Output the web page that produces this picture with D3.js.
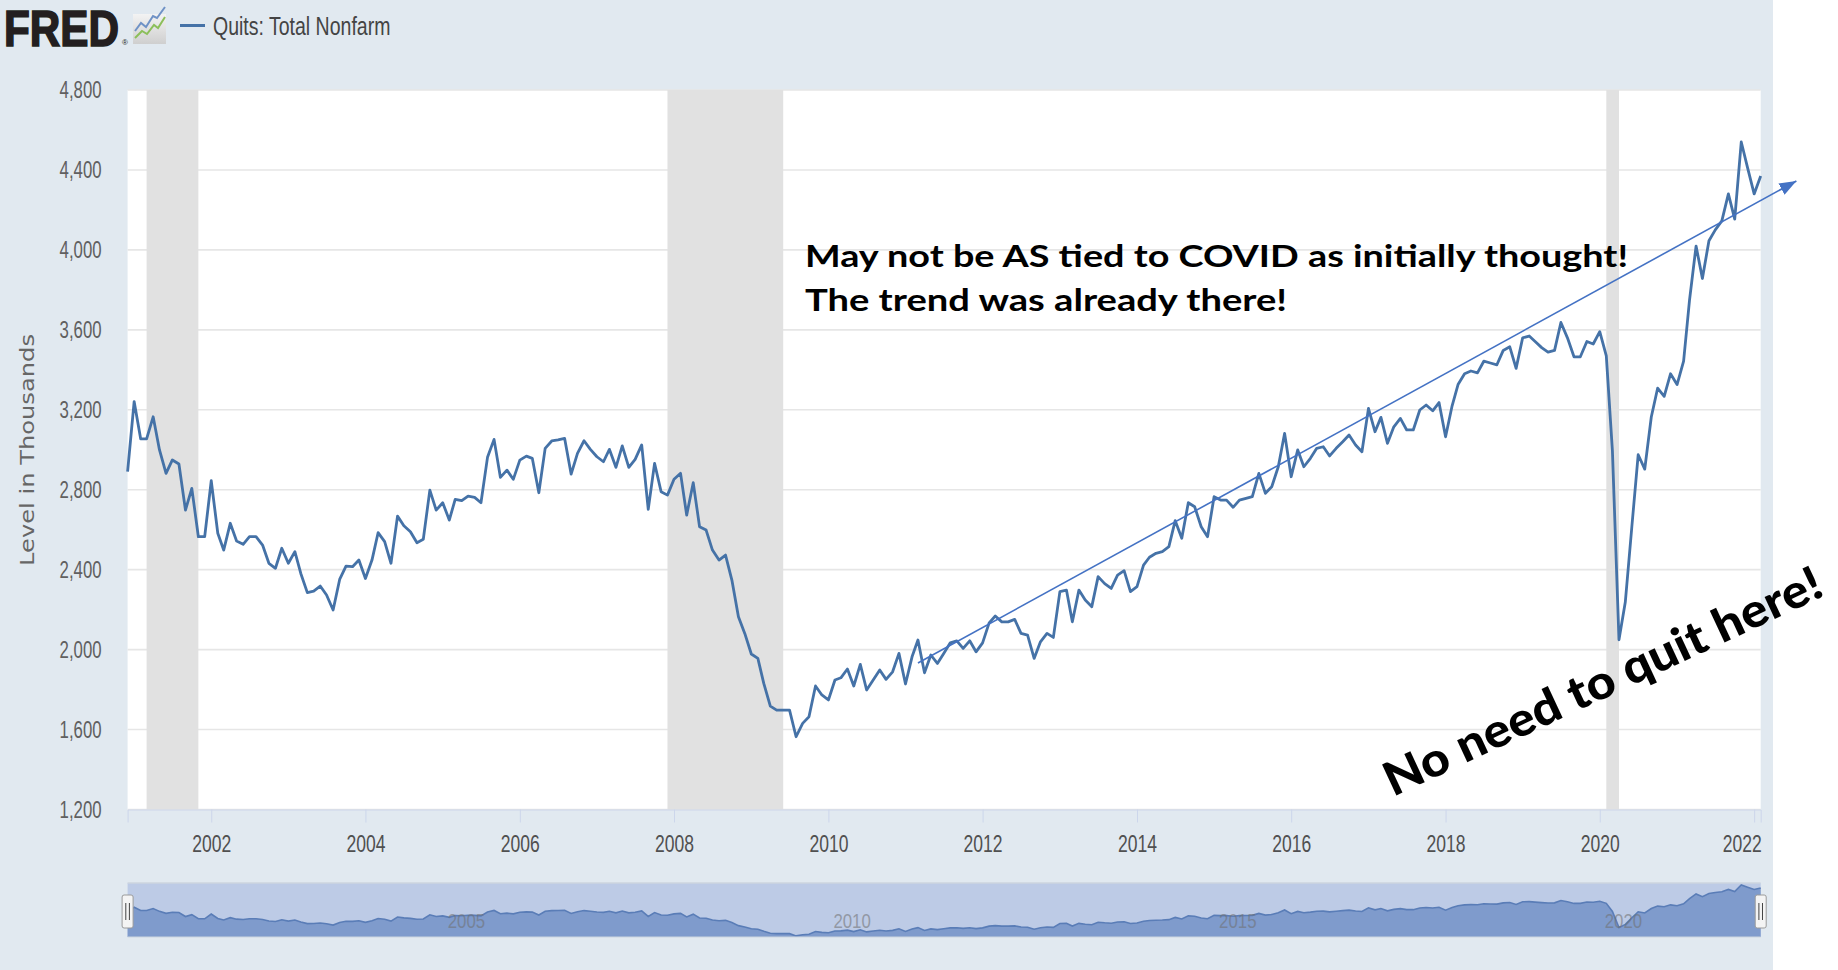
<!DOCTYPE html>
<html>
<head>
<meta charset="utf-8">
<script src="https://cdn.jsdelivr.net/npm/d3@7"></script>
<style>
  html, body { margin: 0; padding: 0; background: #ffffff; }
  svg { display: block; }
</style>
</head>
<body>
<svg id="chart" width="1838" height="970"></svg>
<script>
// ---- Data: JOLTS quits, total nonfarm, monthly, thousands ----
const firstMonth = "2000-12";
const quitsLevels = [
  2890,                                                             // 2000 Dec
  3241,3054,3054,3165,2999,2882,2949,2929,2698,2807,2565,2565,      // 2001
  2845,2582,2498,2632,2543,2527,2565,2565,2523,2432,2407,2507,      // 2002
  2432,2490,2381,2285,2293,2318,2273,2198,2351,2418,2415,2448,      // 2003
  2356,2448,2585,2540,2432,2668,2620,2590,2535,2552,2798,2698,      // 2004
  2735,2648,2752,2745,2768,2762,2735,2962,3052,2862,2898,2852,      // 2005
  2948,2968,2957,2785,3007,3044,3049,3057,2878,2982,3045,3002,      // 2006
  2965,2940,3002,2912,3019,2912,2952,3024,2702,2932,2790,2773,      // 2007
  2852,2882,2673,2835,2615,2598,2498,2448,2473,2348,2165,2081,      // 2008
  1978,1956,1831,1717,1697,1697,1697,1564,1631,1664,1818,1773,      // 2009
  1748,1848,1859,1903,1818,1926,1798,1848,1898,1851,1889,1981,      // 2010
  1828,1964,2048,1884,1973,1931,1981,2034,2044,2006,2044,1989,      // 2011
  2034,2134,2168,2139,2139,2151,2081,2073,1956,2039,2081,2061,      // 2012
  2290,2298,2139,2298,2248,2215,2365,2330,2306,2373,2395,2290,      // 2013
  2315,2423,2462,2482,2490,2515,2645,2557,2735,2715,2615,2565,      // 2014
  2765,2748,2748,2712,2748,2757,2765,2882,2782,2815,2915,3082,      // 2015
  2865,2999,2915,2957,3007,3015,2969,3007,3040,3074,3024,2990,      // 2016
  3207,3090,3162,3032,3115,3157,3099,3099,3199,3224,3195,3236,      // 2017
  3065,3220,3326,3380,3394,3385,3443,3434,3425,3497,3515,3407,      // 2018
  3560,3569,3542,3511,3488,3497,3637,3560,3465,3465,3542,3529,      // 2019
  3591,3470,2993,2049,2238,2616,2975,2903,3164,3308,3267,3380,      // 2020
  3326,3443,3749,4019,3857,4046,4100,4145,4280,4154,4540,4410,      // 2021
  4280,4370                                                         // 2022
];

// Recessions (start month, end month)
const recessionStarts = ["2001-03", "2007-12", "2020-02"];
const recessionEnds   = ["2001-11", "2009-06", "2020-04"];

// Axis ticks
const yTickValues = [1200, 1600, 2000, 2400, 2800, 3200, 3600, 4000, 4400, 4800];
const xTickYears = [2002, 2004, 2006, 2008, 2010, 2012, 2014, 2016, 2018, 2020, 2022];
const navigatorYears = [2005, 2010, 2015, 2020];

// Text
const seriesName = "Quits: Total Nonfarm";
const yAxisTitle = "Level in Thousands";
const noteLines = ["May not be AS tied to COVID as initially thought!", "The trend was already there!"];
const stampText = "No need to quit here!";

// Hand-drawn trend arrow (month, level) at its two ends
const trendStart = ["2011-03", 1933];
const trendEnd   = ["2022-07", 4345];

// ---- Layout ----
const W = 1838, H = 970;
const pageRight = 1773;
const plot = { left: 127.6, right: 1760.7, top: 90, bottom: 809.5 };
const nav = { top: 883, bottom: 937 };

const svg = d3.select("#chart");
const defs = svg.append("defs");
const parseMonth = d3.timeParse("%Y-%m");
const start = parseMonth(firstMonth);
const series = quitsLevels.map((v, i) => ({ date: d3.timeMonth.offset(start, i), value: v }));

const x = d3.scaleTime()
  .domain([series[0].date, series[series.length - 1].date])
  .range([plot.left, plot.right]);
const y = d3.scaleLinear().domain([1200, 4800]).range([plot.bottom, plot.top]);

// condensed label look
function condense(sel, f) {
  sel.each(function () {
    const w = this.getComputedTextLength();
    this.setAttribute("textLength", (w * f).toFixed(1));
    this.setAttribute("lengthAdjust", "spacingAndGlyphs");
  });
}

// ---- Backgrounds ----
svg.append("rect").attr("x", 0).attr("y", 0).attr("width", pageRight).attr("height", H).attr("fill", "#e1e9f0");
svg.append("rect")
  .attr("x", plot.left).attr("y", plot.top)
  .attr("width", plot.right - plot.left).attr("height", plot.bottom - plot.top)
  .attr("fill", "#ffffff");

// ---- Grid ----
svg.append("g").selectAll("line").data(yTickValues).join("line")
  .attr("x1", plot.left).attr("x2", plot.right)
  .attr("y1", d => y(d)).attr("y2", d => y(d))
  .attr("stroke", "#e6e6e6").attr("stroke-width", 1.6);

// ---- Recession bands ----
svg.append("g").selectAll("rect").data(recessionStarts.map((s, i) => [parseMonth(s), parseMonth(recessionEnds[i])]))
  .join("rect")
  .attr("x", d => x(d[0])).attr("width", d => x(d[1]) - x(d[0]))
  .attr("y", plot.top).attr("height", plot.bottom - plot.top)
  .attr("fill", "#e1e1e1");

// ---- X axis ----
const xAxis = d3.axisBottom(x)
  .tickValues(xTickYears.map(yr => new Date(yr, 0, 1)))
  .tickFormat(d3.timeFormat("%Y"))
  .tickSize(13).tickPadding(12);
const gx = svg.append("g").attr("transform", `translate(0,${plot.bottom})`).call(xAxis);
gx.select(".domain").attr("stroke", "#ccd6eb").attr("stroke-width", 1);
gx.selectAll(".tick line").attr("stroke", "#ccd6eb").attr("stroke-width", 1);
gx.selectAll(".tick text")
  .attr("font-family", "'Liberation Sans', Arial, sans-serif")
  .attr("font-size", 24).attr("fill", "#505050");
condense(gx.selectAll(".tick text"), 0.73);
// keep the last label inside the plot
gx.selectAll(".tick text").each(function () {
  const b = this.getBBox();
  const tx = +this.parentNode.getAttribute("transform").match(/translate\(([-\d.]+)/)[1];
  const over = tx + b.x + b.width - (plot.right + 1);
  if (over > 0) this.setAttribute("x", -over);
});

// ---- Y axis ----
const yAxis = d3.axisLeft(y).tickValues(yTickValues).tickFormat(d3.format(",")).tickSize(0).tickPadding(26);
const gy = svg.append("g").attr("transform", `translate(${plot.left},0)`).call(yAxis);
gy.select(".domain").remove();
gy.selectAll(".tick text")
  .attr("font-family", "'Liberation Sans', Arial, sans-serif")
  .attr("font-size", 24).attr("fill", "#606060");
condense(gy.selectAll(".tick text"), 0.7);

svg.append("text")
  .attr("transform", `translate(27,450) rotate(-90)`)
  .attr("text-anchor", "middle").attr("dominant-baseline", "central")
  .attr("font-family", "'DejaVu Sans', sans-serif").attr("font-size", 20)
  .attr("fill", "#666666")
  .attr("textLength", 232).attr("lengthAdjust", "spacingAndGlyphs")
  .text(yAxisTitle);

// ---- Series line ----
const line = d3.line().x(d => x(d.date)).y(d => y(d.value));
svg.append("path").datum(series)
  .attr("d", line)
  .attr("fill", "none").attr("stroke", "#4572a7")
  .attr("stroke-width", 2.8).attr("stroke-linejoin", "round");

// ---- Navigator ----
const yNav = d3.scaleLinear().domain([1500, 4600]).range([nav.bottom, nav.top + 1]);
svg.append("rect")
  .attr("x", plot.left).attr("y", nav.top)
  .attr("width", plot.right - plot.left).attr("height", nav.bottom - nav.top)
  .attr("fill", "#bdcbe6");
svg.append("path").datum(series)
  .attr("d", d3.area().x(d => x(d.date)).y0(nav.bottom).y1(d => yNav(d.value)))
  .attr("fill", "#7f9bcc");
svg.append("path").datum(series)
  .attr("d", d3.line().x(d => x(d.date)).y(d => yNav(d.value)))
  .attr("fill", "none").attr("stroke", "#5a7db7").attr("stroke-width", 1.6);
svg.append("line")
  .attr("x1", plot.left).attr("x2", plot.right).attr("y1", nav.top).attr("y2", nav.top)
  .attr("stroke", "#cdd5df").attr("stroke-width", 1.5);
svg.append("line")
  .attr("x1", plot.left).attr("x2", plot.right).attr("y1", nav.bottom).attr("y2", nav.bottom)
  .attr("stroke", "#cdd5df").attr("stroke-width", 1);

const navText = svg.append("g").selectAll("text").data(navigatorYears).join("text")
  .attr("x", d => x(new Date(d, 0, 1)) + 5)
  .attr("y", 928)
  .attr("font-family", "'Liberation Sans', Arial, sans-serif")
  .attr("font-size", 21).attr("fill", "#6f6f6f").attr("opacity", 0.55)
  .text(d => d);
condense(navText, 0.8);

// navigator handles
const handles = svg.append("g").selectAll("g").data([plot.left, plot.right]).join("g")
  .attr("transform", d => `translate(${d},0)`);
handles.append("rect")
  .attr("x", -5.5).attr("y", 895).attr("width", 11).attr("height", 33).attr("rx", 2)
  .attr("fill", "#f4f4f4").attr("stroke", "#9a9a9a").attr("stroke-width", 1);
handles.selectAll("line").data([-1.8, 1.8]).join("line")
  .attr("x1", d => d).attr("x2", d => d).attr("y1", 903).attr("y2", 920)
  .attr("stroke", "#444").attr("stroke-width", 1);

// ---- Header: logo and legend ----
const head = svg.append("g");
// tall, tightly set wordmark
head.append("text")
  .attr("transform", "translate(4,45.5) scale(1,1.25)")
  .attr("font-family", "'Liberation Sans', Arial, sans-serif").attr("font-weight", 700)
  .attr("font-size", 40).attr("fill", "#231f20")
  .attr("stroke", "#231f20").attr("stroke-width", 1.3)
  .attr("textLength", 115).attr("lengthAdjust", "spacingAndGlyphs")
  .text("FRED");
head.append("text")
  .attr("x", 122).attr("y", 45)
  .attr("font-family", "'Liberation Sans', Arial, sans-serif")
  .attr("font-size", 8).attr("fill", "#231f20")
  .text("\u00AE");

// small chart icon
const icon = head.append("g").attr("transform", "translate(133,6)");
const iconGrad = defs.append("linearGradient").attr("id", "iconGrad")
  .attr("x1", 0).attr("y1", 0).attr("x2", 0).attr("y2", 1);
iconGrad.append("stop").attr("offset", "0%").attr("stop-color", "#f3f3f3");
iconGrad.append("stop").attr("offset", "100%").attr("stop-color", "#cfcfcf");
icon.append("rect").attr("x", 0).attr("y", 8).attr("width", 33).attr("height", 30).attr("fill", "url(#iconGrad)");
icon.append("polyline")
  .attr("points", "2,25 8,17 13,21 20,10 24,12 32,1")
  .attr("fill", "none").attr("stroke", "#6f92c6").attr("stroke-width", 2);
icon.append("polyline")
  .attr("points", "2,32 9,25 14,28 21,19 25,22 32,11")
  .attr("fill", "none").attr("stroke", "#8cbf5a").attr("stroke-width", 2);

head.append("line")
  .attr("x1", 180).attr("x2", 205).attr("y1", 25.5).attr("y2", 25.5)
  .attr("stroke", "#4572a7").attr("stroke-width", 3);
const legendText = head.append("text")
  .attr("x", 213).attr("y", 34.5)
  .attr("font-family", "'Liberation Sans', Arial, sans-serif")
  .attr("font-size", 25).attr("fill", "#444444")
  .text(seriesName);
condense(legendText, 0.78);

// ---- Trend arrow ----
defs.append("marker")
  .attr("id", "arrowHead")
  .attr("markerUnits", "userSpaceOnUse")
  .attr("viewBox", "0 0 16 12")
  .attr("refX", 16).attr("refY", 6)
  .attr("markerWidth", 17).attr("markerHeight", 13)
  .attr("orient", "auto")
  .append("path").attr("d", "M0,0 L16,6 L0,12 Z").attr("fill", "#4472c4");

const t0 = [x(parseMonth(trendStart[0])), y(trendStart[1])];
const t1 = [x(d3.timeDay.offset(parseMonth(trendEnd[0]), 19)), y(trendEnd[1])];
svg.append("line")
  .attr("x1", t0[0]).attr("y1", t0[1]).attr("x2", t1[0]).attr("y2", t1[1])
  .attr("stroke", "#4472c4").attr("stroke-width", 1.6)
  .attr("marker-end", "url(#arrowHead)");

// ---- Notes ----
const noteFont = "Lato, 'Open Sans', sans-serif";
svg.append("text")
  .attr("x", 805).attr("y", 267)
  .attr("font-family", noteFont).attr("font-weight", 700).attr("font-size", 31)
  .attr("fill", "#000").attr("textLength", 823).attr("lengthAdjust", "spacingAndGlyphs")
  .text(noteLines[0]);
svg.append("text")
  .attr("x", 805).attr("y", 311)
  .attr("font-family", noteFont).attr("font-weight", 700).attr("font-size", 31)
  .attr("fill", "#000").attr("textLength", 482).attr("lengthAdjust", "spacingAndGlyphs")
  .text(noteLines[1]);

svg.append("text")
  .attr("transform", "translate(1393,797) rotate(-25)")
  .attr("font-family", noteFont).attr("font-weight", 900).attr("font-size", 47)
  .attr("fill", "#000").attr("textLength", 478).attr("lengthAdjust", "spacingAndGlyphs")
  .text(stampText);
</script>
</body>
</html>
